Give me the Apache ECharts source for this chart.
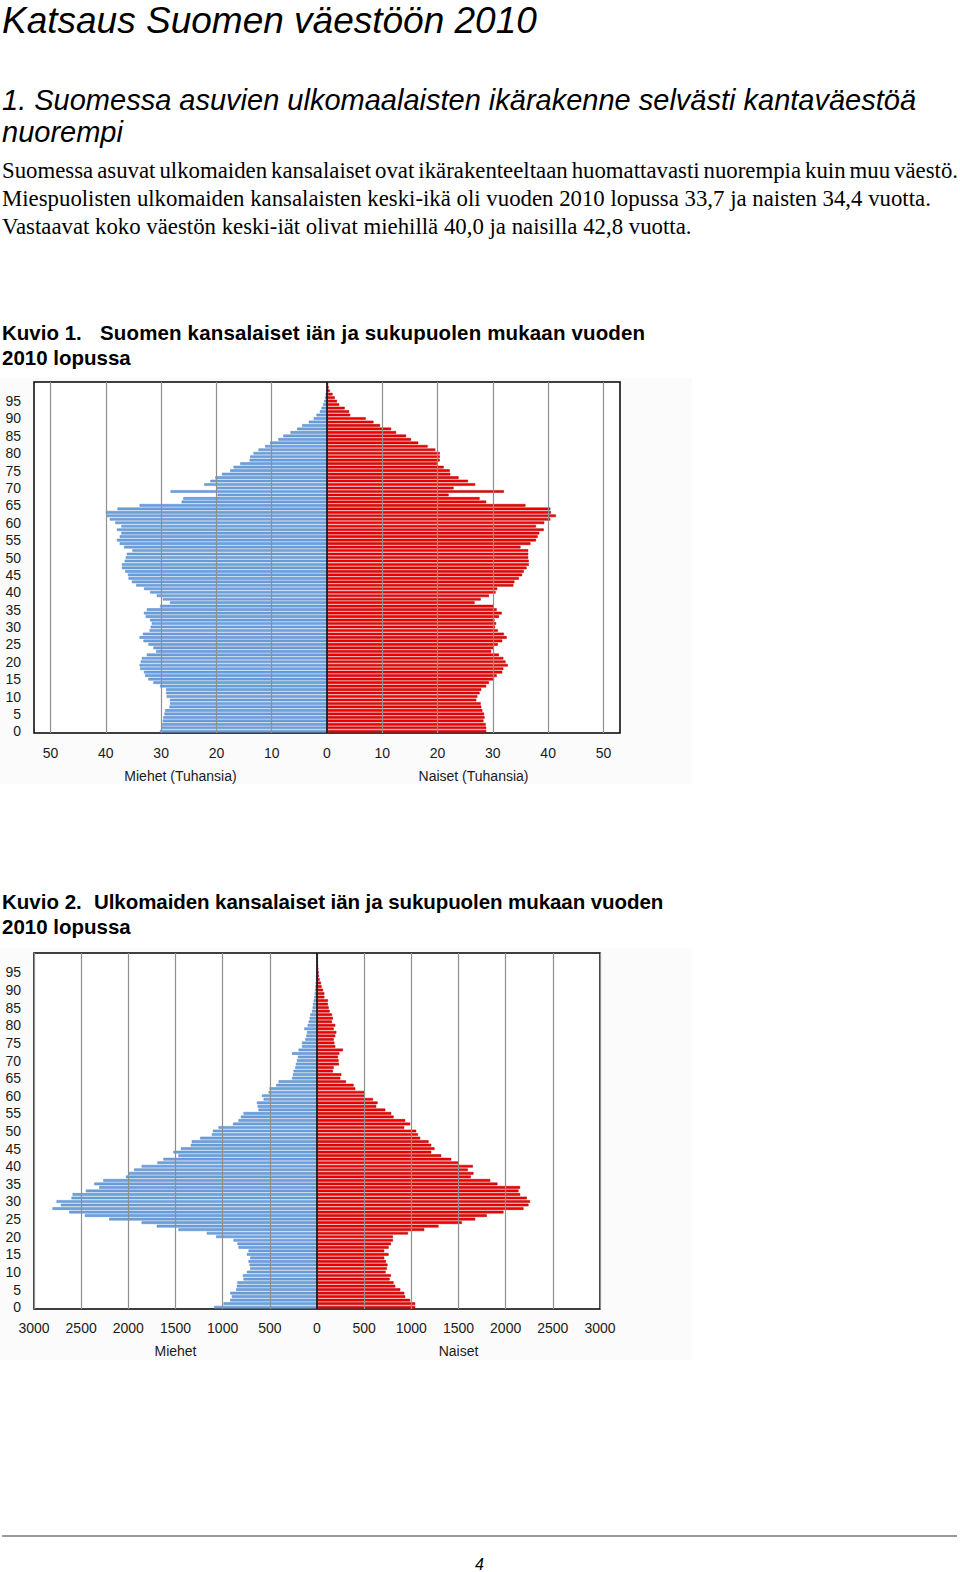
<!DOCTYPE html>
<html><head><meta charset="utf-8">
<script src="https://cdn.jsdelivr.net/npm/echarts@6/dist/echarts.min.js"></script>
<style>
html,body{margin:0;padding:0;background:#fff;}
body{width:960px;height:1572px;position:relative;overflow:hidden;font-family:"Liberation Sans",Arial,sans-serif;color:#000;}
.t{position:absolute;left:2px;white-space:pre;line-height:1;}
.h1{font-size:37px;font-style:italic;line-height:1.15;}
.h2{font-size:29px;font-style:italic;}
.p{font-family:"Liberation Serif","Times New Roman",serif;font-size:22.8px;}
.k{font-size:20.5px;font-weight:bold;}
.chart{position:absolute;left:0;width:692px;}
</style></head><body>
<div class="t h1" style="top:0px">Katsaus Suomen väestöön 2010</div>
<div class="t h2" style="top:86px">1. Suomessa asuvien ulkomaalaisten ikärakenne selvästi kantaväestöä</div>
<div class="t h2" style="top:118px">nuorempi</div>
<div class="t p" style="top:160px;word-spacing:-1.7px">Suomessa asuvat ulkomaiden kansalaiset ovat ikärakenteeltaan huomattavasti nuorempia kuin muu väestö.</div>
<div class="t p" style="top:188px">Miespuolisten ulkomaiden kansalaisten keski-ikä oli vuoden 2010 lopussa 33,7 ja naisten 34,4 vuotta.</div>
<div class="t p" style="top:216px">Vastaavat koko väestön keski-iät olivat miehillä 40,0 ja naisilla 42,8 vuotta.</div>
<div class="t k" style="top:323px">Kuvio 1.</div>
<div class="t k" style="top:323px;left:100px;letter-spacing:0.15px">Suomen kansalaiset iän ja sukupuolen mukaan vuoden</div>
<div class="t k" style="top:348px">2010 lopussa</div>
<div id="c1" class="chart" style="top:378px;height:406px"></div>
<div class="t k" style="top:892px">Kuvio 2.</div>
<div class="t k" style="top:892px;left:94px;letter-spacing:-0.07px">Ulkomaiden kansalaiset iän ja sukupuolen mukaan vuoden</div>
<div class="t k" style="top:917px">2010 lopussa</div>
<div id="c2" class="chart" style="top:948px;height:412px"></div>
<div style="position:absolute;left:2px;top:1535px;width:955px;height:2px;background:#9a9a9a"></div>
<div class="t" style="left:475px;top:1557px;font-size:16px;font-style:italic">4</div>
<script>
// Age categories (0..100)
const ages = ["0","1","2","3","4","5","6","7","8","9","10","11","12","13","14","15","16","17","18","19","20","21","22","23","24","25","26","27","28","29","30","31","32","33","34","35","36","37","38","39","40","41","42","43","44","45","46","47","48","49","50","51","52","53","54","55","56","57","58","59","60","61","62","63","64","65","66","67","68","69","70","71","72","73","74","75","76","77","78","79","80","81","82","83","84","85","86","87","88","89","90","91","92","93","94","95","96","97","98","99","100"];

// Kuvio 1: Finnish citizens, thousands, by age 0..100
const fiMen = [30.2,29.9,29.8,29.7,29.6,29.4,29.3,28.5,28.4,28.4,29.0,29.1,29.1,30.2,31.4,32.3,32.9,33.1,33.8,33.9,33.7,33.5,32.6,30.9,31.4,32.3,33.2,33.9,33.3,32.1,31.9,31.7,32.0,32.8,33.1,32.6,30.2,28.4,29.7,30.8,32.0,33.1,34.5,35.3,35.9,36.0,36.5,37.1,37.1,36.6,36.4,36.2,35.2,36.7,37.5,38.0,37.5,37.2,38.0,37.2,38.3,39.3,39.8,40.0,37.9,33.9,26.3,26.0,19.8,28.3,19.9,22.2,21.1,20.2,19.0,17.5,16.9,15.7,14.0,13.9,13.3,12.4,11.2,10.3,8.8,7.9,6.6,5.4,4.5,3.3,2.4,1.9,1.3,1.0,0.7,0.5,0.35,0.25,0.15,0.1,0.05];
const fiWomen = [28.8,28.8,28.7,28.3,28.5,28.4,28.1,27.9,27.8,27.0,27.2,27.6,27.9,28.8,29.3,30.2,30.7,31.7,31.9,32.7,32.3,31.9,31.1,29.7,30.1,30.9,31.7,32.5,32.0,30.9,30.4,30.6,30.3,31.1,31.6,30.7,30.1,26.7,27.8,29.3,30.5,30.8,33.7,33.9,34.7,35.3,35.6,36.1,36.5,36.5,36.4,36.4,36.4,35.0,36.8,37.8,38.1,38.4,39.2,37.8,39.3,40.4,41.4,40.5,40.4,35.9,28.8,27.6,22.0,32.0,22.9,26.8,25.5,23.8,22.3,22.2,21.1,19.9,20.4,20.4,20.4,19.6,18.2,16.5,15.2,14.3,12.5,11.6,9.6,8.4,7.0,4.2,4.0,3.2,2.2,1.8,1.4,1.0,0.5,0.3,0.2];

// Kuvio 2: foreign citizens, persons, by age 0..100
const foMen = [1090,991,920,903,920,857,850,843,779,786,743,708,715,726,708,743,726,832,843,885,1069,1168,1469,1699,1859,2202,2460,2627,2804,2715,2761,2602,2591,2450,2308,2361,2266,2025,2000,1940,1859,1692,1628,1469,1522,1444,1338,1328,1239,1115,1104,1044,890,832,807,779,620,630,637,566,584,513,503,432,407,265,255,248,230,223,212,202,265,195,159,159,124,113,106,134,99,88,78,71,53,46,42,35,28,25,21,18,14,10,10,7,5,4,3,2,2];
const foWomen = [1041,1041,988,935,925,883,830,812,770,784,727,741,748,731,713,759,713,759,784,805,805,964,1137,1288,1536,1677,1800,1977,2189,2242,2259,2224,2153,2136,2153,1913,1836,1631,1659,1599,1652,1500,1423,1317,1211,1246,1211,1183,1094,1070,1052,925,988,935,812,787,724,628,642,593,505,505,406,388,307,247,258,169,177,233,229,222,237,275,194,184,177,194,205,177,194,159,169,159,134,124,116,116,78,78,64,49,42,28,21,18,14,10,8,5,4];

const axisNames1 = ["Miehet (Tuhansia)", "Naiset (Tuhansia)"];
const axisNames2 = ["Miehet", "Naiset"];

const BLUE = '#6fa1dd', BLUE_B = '#4f86c8', RED = '#f40000', RED_B = '#b00000';

function pyramid(el, cfg) {
  const chart = echarts.init(el, null, {renderer: 'svg'});
  const L = 34, W = cfg.w, T = cfg.top, H = cfg.h;
  const inset = W * (cfg.lim - cfg.tick) / (2 * cfg.lim);
  const lbl = {color: '#1a1a1a', fontSize: 14, fontFamily: '"Liberation Sans", Arial, sans-serif'};
  const nameStyle = (t) => ({text: t, fill: '#1a1a1a', font: '14px "Liberation Sans", Arial, sans-serif', textAlign: 'center', textVerticalAlign: 'middle'});
  chart.setOption({
    animation: false,
    backgroundColor: '#fbfbfb',
    grid: [
      {left: L, top: T, width: W, height: H, show: true, backgroundColor: '#fff', borderColor: '#000', borderWidth: 1.5},
      {left: L + inset, top: T, width: W - 2 * inset, height: H, show: false}
    ],
    xAxis: [
      {gridIndex: 0, type: 'value', min: -cfg.lim, max: cfg.lim, show: false},
      {gridIndex: 1, type: 'value', min: -cfg.tick, max: cfg.tick, interval: cfg.step, z: 5,
       axisLine: {show: false}, axisTick: {show: false},
       splitLine: {show: true, lineStyle: {color: '#8f8f8f', width: 1.2}},
       axisLabel: Object.assign({margin: cfg.lblMargin, formatter: v => String(Math.abs(v))}, lbl)}
    ],
    yAxis: [
      {gridIndex: 0, type: 'category', data: ages, axisLine: {show: false}, axisTick: {show: false},
       splitLine: {show: false},
       axisLabel: Object.assign({margin: 13, interval: (i) => i % 5 === 0 && i < 100}, lbl)},
      {gridIndex: 1, type: 'category', data: ages, show: false}
    ],
    series: [
      {name: cfg.names[0], type: 'bar', xAxisIndex: 0, yAxisIndex: 0, data: cfg.men.map(v => -v),
       barGap: '-100%', barCategoryGap: '24%',
       itemStyle: {color: BLUE, borderColor: BLUE_B, borderWidth: 0.5}},
      {name: cfg.names[1], type: 'bar', xAxisIndex: 0, yAxisIndex: 0, data: cfg.women,
       barGap: '-100%', barCategoryGap: '24%',
       itemStyle: {color: RED, borderColor: RED_B, borderWidth: 0.5},
       markLine: {silent: true, symbol: 'none', label: {show: false}, z: 6,
         lineStyle: {color: '#000', width: 1.5, type: 'solid'}, data: [{xAxis: 0}]}}
    ],
    graphic: [
      {type: 'text', x: L + W / 4, y: cfg.nameY, style: nameStyle(cfg.names[0])},
      {type: 'text', x: L + 3 * W / 4, y: cfg.nameY, style: nameStyle(cfg.names[1])}
    ]
  });
}

pyramid(document.getElementById('c1'), {w: 586, top: 4, h: 351, lim: 53, tick: 50, step: 10, lblMargin: 13, nameY: 398, names: axisNames1, men: fiMen, women: fiWomen});
pyramid(document.getElementById('c2'), {w: 566, top: 5, h: 356, lim: 3000, tick: 3000, step: 500, lblMargin: 12, nameY: 403, names: axisNames2, men: foMen, women: foWomen});
</script>
</body></html>
